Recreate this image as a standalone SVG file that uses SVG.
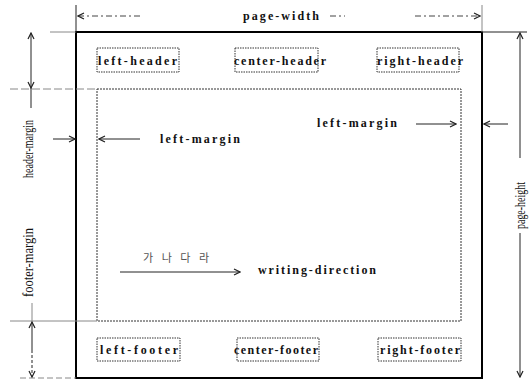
<svg xmlns="http://www.w3.org/2000/svg" width="529" height="380" viewBox="0 0 529 380">
<style>
.lbl{font-family:"Liberation Serif",serif;font-weight:bold;font-size:12px;fill:#111}
.rot{font-family:"Liberation Serif",serif;font-size:14px;fill:#111}
.box{fill:none;stroke:#333;stroke-width:1;stroke-dasharray:1.5 1}
.ln{stroke:#222;stroke-width:1;fill:none}
.gr{stroke:#888;stroke-width:1;fill:none}
.dash{stroke:#444;stroke-width:1;fill:none;stroke-dasharray:6 3 2 3}
</style>
<defs>
<marker id="ah" viewBox="0 0 8 8" refX="7" refY="4" markerWidth="8" markerHeight="8" markerUnits="userSpaceOnUse" orient="auto">
<path d="M1,1 L7,4 L1,7" fill="none" stroke="#222" stroke-width="1.2"/>
</marker>
</defs>
<g id="page">
<rect x="76" y="32" width="406" height="346" fill="none" stroke="#000" stroke-width="2"/>
</g>
<g id="body">
<rect x="97" y="89" width="364" height="232" fill="none" stroke="#333" stroke-width="1" stroke-dasharray="2 1"/>
</g>
<g id="left-header"><rect class="box" x="97" y="48" width="82" height="24"/><text class="lbl" x="98" y="65" textLength="79">left-header</text></g>
<g id="center-header"><rect class="box" x="235" y="48" width="83" height="24"/><text class="lbl" x="234" y="65" textLength="92">center-header</text></g>
<g id="right-header"><rect class="box" x="377" y="48" width="82" height="24"/><text class="lbl" x="377" y="65" textLength="86">right-header</text></g>
<g id="left-footer"><rect class="box" x="97" y="338" width="83" height="23"/><text class="lbl" x="100" y="354" textLength="78">left-footer</text></g>
<g id="center-footer"><rect class="box" x="237" y="338" width="82" height="23"/><text class="lbl" x="234" y="354" textLength="84">center-footer</text></g>
<g id="right-footer"><rect class="box" x="378" y="338" width="83" height="23"/><text class="lbl" x="380" y="354" textLength="80">right-footer</text></g>
<g id="labels">
<text class="lbl" x="243" y="20" textLength="76">page-width</text>
<text class="lbl" x="160" y="143" textLength="80">left-margin</text>
<text class="lbl" x="317" y="127" textLength="80">left-margin</text>
<text class="lbl" x="258" y="274" textLength="118">writing-direction</text>
<text x="143" y="262" font-family="'Noto Sans CJK KR',sans-serif" font-size="11" fill="#555" textLength="66">가나다라</text>
<text class="rot" transform="translate(33,178) rotate(-90)" textLength="58" lengthAdjust="spacingAndGlyphs">header-margin</text>
<text class="rot" transform="translate(33,297) rotate(-90)" textLength="69" lengthAdjust="spacingAndGlyphs">footer-margin</text>
<text class="rot" transform="translate(525,229) rotate(-90)" textLength="47" lengthAdjust="spacingAndGlyphs">page-height</text>
</g>
<g id="connectors">
<line class="gr" x1="50" y1="32" x2="76" y2="32"/>
<line class="ln" x1="482" y1="32" x2="527" y2="32"/>
<line class="gr" x1="10" y1="89" x2="97" y2="89" stroke-dasharray="8 3"/>
<line class="gr" x1="10" y1="321" x2="97" y2="321"/>
<line class="gr" x1="20" y1="378" x2="76" y2="378" stroke-dasharray="6 3"/>
<line class="ln" x1="76" y1="5" x2="76" y2="32"/>
<line class="gr" x1="482" y1="5" x2="482" y2="32"/>
<line class="dash" x1="140" y1="16" x2="78" y2="16" marker-end="url(#ah)"/>
<line class="dash" x1="415" y1="16" x2="480" y2="16" marker-end="url(#ah)"/>
<line class="dash" x1="330" y1="16" x2="345" y2="16"/>
<line class="ln" x1="31" y1="60" x2="31" y2="33" marker-end="url(#ah)"/>
<line class="ln" x1="31" y1="60" x2="31" y2="88" marker-end="url(#ah)"/>
<line class="ln" x1="31" y1="88" x2="31" y2="108"/>
<line class="gr" x1="32" y1="303" x2="32" y2="321"/>
<line class="ln" x1="32" y1="350" x2="32" y2="322" marker-end="url(#ah)"/>
<line class="ln" x1="32" y1="350" x2="32" y2="377" marker-end="url(#ah)" stroke-dasharray="3 2"/>
<line class="ln" x1="53" y1="139" x2="75" y2="139" marker-end="url(#ah)"/>
<line class="ln" x1="140" y1="139" x2="99" y2="139" marker-end="url(#ah)"/>
<line class="ln" x1="416" y1="124" x2="456" y2="124" marker-end="url(#ah)"/>
<line class="ln" x1="508" y1="124" x2="484" y2="124" marker-end="url(#ah)"/>
<line class="ln" x1="520" y1="158" x2="520" y2="33" marker-end="url(#ah)"/>
<line class="ln" x1="520" y1="233" x2="520" y2="377" marker-end="url(#ah)"/>
<line class="ln" x1="120" y1="272" x2="240" y2="272" marker-end="url(#ah)"/>
</g>
</svg>
